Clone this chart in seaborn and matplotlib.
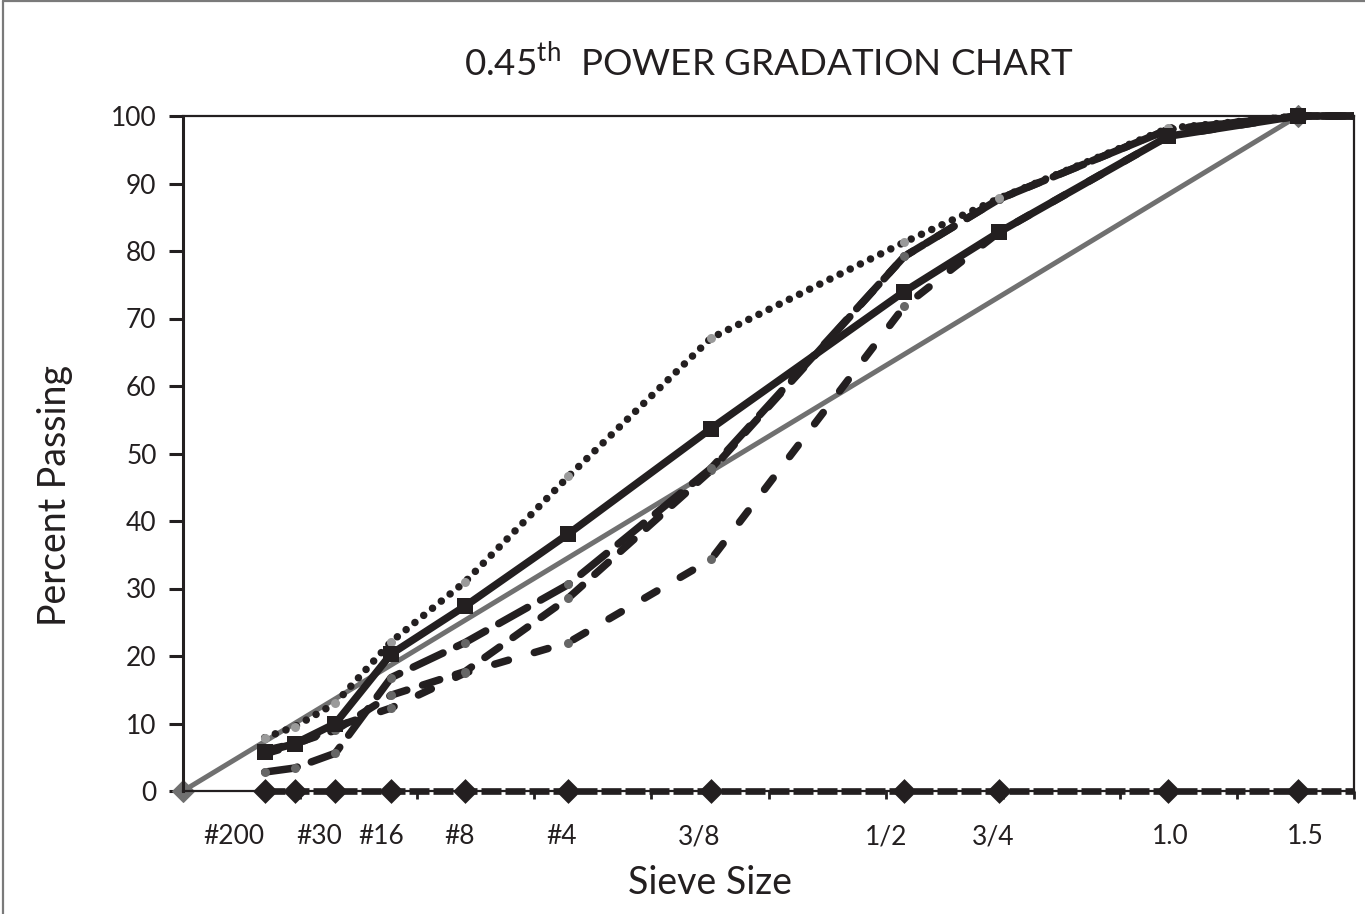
import numpy as np
import pandas as pd
import matplotlib
matplotlib.use("Agg")
import matplotlib.pyplot as plt
from matplotlib.lines import Line2D
from matplotlib.transforms import Bbox, TransformedBbox
import seaborn as sns

# ---------------- data ----------------
sieve_mm = [0.075, 0.15, 0.3, 0.6, 1.18, 2.36, 4.75, 9.5, 12.5, 19.0, 25.0, 37.5]
mix_square = [5.8, 7.0, 10.0, 20.3, 27.4, 38.1, 53.7, 74.0, 82.8, 97.0, 100, 100]
mix_dotted = [7.9, 9.5, 13.0, 22.1, 31.0, 46.6, 67.1, 81.3, 87.8, 98.2, 100, 100]
mix_longdash = [2.8, 3.4, 5.6, 16.8, 22.0, 30.6, 47.8, 79.2, 87.7, 98.0, 100, 100]
mix_dash = [6.0, 7.0, 9.0, 14.2, 17.7, 28.6, 47.5, 79.2, 87.7, 98.0, 100, 100]
mix_shortdash = [5.5, 6.8, 9.5, 12.3, 17.5, 22.0, 34.3, 71.8, 82.8, 97.0, 100, 100]
mix_zero = [0, 0, 0, 0, 0, 0, 0, 0, 0, 0, 0, 0]
maxdens_mm = [0.0, 25.0]
maxdens_pct = [0, 100]

tick_labels = ["#200", "#30", "#16", "#8", "#4", "3/8", "1/2", "3/4", "1.0", "1.5"]
tick_label_pos = [0.195, 0.519, 0.756, 1.054, 1.447, 1.970, 2.684, 3.093, 3.769, 4.284]
y_ticks = [0, 10, 20, 30, 40, 50, 60, 70, 80, 90, 100]

POWER = 0.45
X_MAX = 4.471

sns.set_theme(style="white")
plt.rcParams["font.family"] = ["Lato", "DejaVu Sans"]
plt.rcParams["mathtext.fontset"] = "custom"
plt.rcParams["mathtext.rm"] = "Lato"

fig = plt.figure(figsize=(13.65, 9.14), dpi=100)
ax = fig.add_axes([183 / 1365, 123 / 914, (1354 - 183) / 1365, (791 - 116) / 914])

BLK = "#231f20"
# clip horizontally at the plot edges, but let lines at 0 / 100 show at full width
clip_box = TransformedBbox(Bbox([[0.0, -0.05], [1.0, 1.05]]), ax.transAxes)


def xpow(vals):
    return [v ** POWER for v in vals]


def draw(y, **props):
    df = pd.DataFrame({"x": xpow(sieve_mm), "y": y})
    sns.lineplot(data=df, x="x", y="y", ax=ax, sort=False, estimator=None)
    line = ax.lines[-1]
    line.update(props)
    line.set_clip_box(clip_box)
    return line


# maximum density line
df_md = pd.DataFrame({"x": xpow(maxdens_mm), "y": maxdens_pct})
sns.lineplot(data=df_md, x="x", y="y", ax=ax, sort=False, estimator=None)
ax.lines[-1].update(dict(color="#707070", linewidth=3.6, marker="D", markersize=11,
                         markeredgecolor="#707070", markerfacecolor="#707070",
                         zorder=2, clip_on=False))

LW = 5.4
common = dict(color=BLK, linewidth=LW, dash_capstyle="round", solid_capstyle="round",
              solid_joinstyle="round", dash_joinstyle="round")
dash_mk = dict(marker="o", markersize=6.5, markerfacecolor="#666666",
               markeredgecolor="#666666", markeredgewidth=0)

draw(mix_shortdash, linestyle=(0, (1.9, 3.6)), zorder=3, **dash_mk, **common)
draw(mix_dash, linestyle=(0, (2.4, 2.2)), zorder=3, **dash_mk, **common)
draw(mix_longdash, linestyle=(0, (4.4, 2.0)), zorder=3, **dash_mk, **common)
draw(mix_dotted, linestyle=(0, (0.01, 1.5)), zorder=3, marker="o", markersize=6.5,
     markerfacecolor="#9a9a9a", markeredgecolor="#9a9a9a", markeredgewidth=0, **common)
draw(mix_square, linestyle="-", marker="s", markersize=11, markeredgewidth=0,
     markerfacecolor=BLK, markeredgecolor=BLK, zorder=4, **common)

# zero reference line + its diamond markers (unclipped)
draw(mix_zero, linestyle=(0, (3.0, 0.6)), zorder=5, color=BLK, linewidth=4.8,
     dash_capstyle="butt")
df_zero = pd.DataFrame({"x": xpow(sieve_mm), "y": mix_zero})
df_zero = df_zero[df_zero["x"] <= X_MAX]
sns.scatterplot(data=df_zero, x="x", y="y", ax=ax, marker="D", s=160, color=BLK,
                edgecolor=BLK, linewidth=0, zorder=6, clip_on=False)

# axes
ax.set_xlim(0, X_MAX)
ax.set_ylim(0, 100)
ax.set_yticks(y_ticks)
ax.set_xticks(tick_label_pos)
ax.set_xticklabels(tick_labels)
ax.set_xticks(np.linspace(0, X_MAX, 11), minor=True)
ax.tick_params(axis="x", which="major", length=0, pad=24, labelsize=19, colors="#231f20")
ax.tick_params(axis="x", which="minor", bottom=True, length=6, width=2, direction="out", color=BLK)
ax.tick_params(axis="y", left=True, length=10, width=2.2, direction="out", pad=9,
               labelsize=19, color=BLK, labelcolor="#231f20")
for s in ax.spines.values():
    s.set_color(BLK)
    s.set_linewidth(1.6)
ax.spines["left"].set_linewidth(2.2)
ax.set_xlabel("")
ax.set_ylabel("")
ax.grid(False)

fig.text(710 / 1365, 1 - 883 / 914, "Sieve Size", ha="center", va="center",
         fontsize=27, color="#231f20")
fig.text(55 / 1365, 1 - 496 / 914, "Percent Passing", ha="center", va="center",
         rotation=90, fontsize=27, color="#231f20")
fig.text(769 / 1365, 1 - 62 / 914, r"0.45$^{\rm th}$  POWER GRADATION CHART",
         ha="center", va="center", fontsize=26.5, color="#231f20")

# outer chart border (top and left visible)
fig.add_artist(Line2D([0.0022, 0.0022], [0, 0.9985], transform=fig.transFigure,
                      color="#7a7a7a", linewidth=1.6))
fig.add_artist(Line2D([0.0022, 1], [0.9985, 0.9985], transform=fig.transFigure,
                      color="#7a7a7a", linewidth=1.6))

fig.savefig("out.png", dpi=100, facecolor="white")
